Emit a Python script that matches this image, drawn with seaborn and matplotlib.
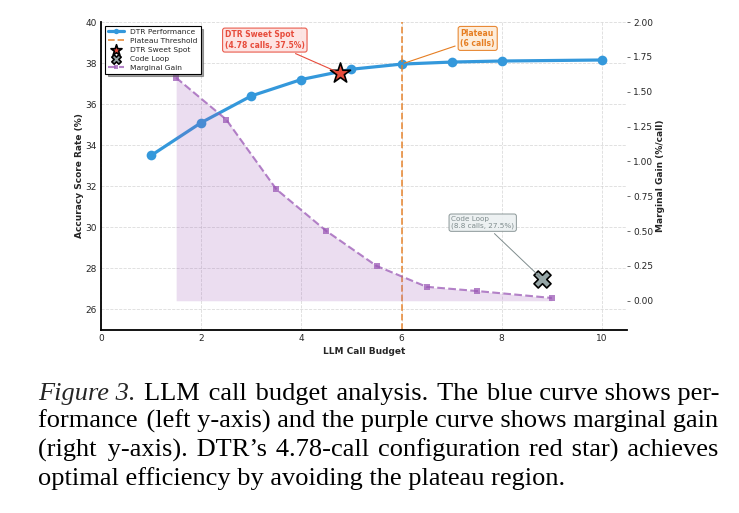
import numpy as np
import pandas as pd
import matplotlib
matplotlib.use("Agg")
import matplotlib.pyplot as plt
import seaborn as sns

#%% data
budget = [1, 2, 3, 4, 5, 6, 7, 8, 10]
accuracy = [33.5, 35.1, 36.4, 37.2, 37.7, 37.95, 38.05, 38.1, 38.15]

gain_x = [1.5, 2.5, 3.5, 4.5, 5.5, 6.5, 7.5, 9.0]
gain = [1.6, 1.3, 0.8, 0.5, 0.25, 0.1, 0.07, 0.02]

sweet_spot = (4.78, 37.5)
code_loop = (8.8, 27.5)
plateau_x = 6

caption_lead = "Figure 3."
caption_lines = [
    "LLM call budget analysis. The blue curve shows per-",
    "formance (left y-axis) and the purple curve shows marginal gain",
    "(right y-axis). DTR\u2019s 4.78-call configuration red star) achieves",
    "optimal efficiency by avoiding the plateau region.",
]

BLUE = "#3498db"
PURPLE = "#9b59b6"
ORANGE = "#e67e22"
RED = "#e74c3c"
GRAY = "#95a5a6"

#%% plot
sns.set_theme(style="whitegrid")
plt.rcParams["font.family"] = ["DejaVu Sans"]

fig = plt.figure(figsize=(7.39, 5.13), dpi=100)
ax1 = fig.add_axes([0.1367, 0.3567, 0.7117, 0.6004])
ax2 = ax1.twinx()

perf = pd.DataFrame({"budget": budget, "accuracy": accuracy})
mg = pd.DataFrame({"x": gain_x, "gain": gain})

sns.lineplot(data=perf, x="budget", y="accuracy", ax=ax1, color=BLUE, lw=2.3,
             marker="o", markersize=7, markeredgewidth=0, label="DTR Performance")
ax1.axvline(plateau_x, color=ORANGE, ls="--", lw=1.3, alpha=0.8, label="Plateau Threshold")
ax1.scatter([sweet_spot[0]], [sweet_spot[1]], marker="*", s=230, color=RED,
            edgecolor="black", linewidth=1.2, zorder=6, label="DTR Sweet Spot")
ax1.scatter([code_loop[0]], [code_loop[1]], marker="X", s=150, color=GRAY,
            edgecolor="black", linewidth=1.2, zorder=6, label="Code Loop")

ax2.fill_between(gain_x, 0, gain, color=PURPLE, alpha=0.2, lw=0)
sns.lineplot(data=mg, x="x", y="gain", ax=ax2, color=PURPLE, lw=1.5, alpha=0.75,
             ls="--", marker="s", markersize=4, markeredgewidth=0, label="Marginal Gain")

ax1.set_xlim(0, 10.5)
ax1.set_ylim(25, 40)
ax2.set_ylim(-0.21, 2.0)
ax1.set_xticks([0, 2, 4, 6, 8, 10])
ax1.set_yticks([26, 28, 30, 32, 34, 36, 38, 40])
gain_ticks = [0, 0.25, 0.5, 0.75, 1.0, 1.25, 1.5, 1.75, 2.0]
ax2.set_yticks(gain_ticks)
ax2.set_yticklabels([f"{v:.2f}" for v in gain_ticks])

ax1.grid(True, ls="--", lw=0.6, color="#cccccc", alpha=0.7)
ax2.grid(False)
ax1.tick_params(axis="both", labelsize=6.5, length=0, pad=3)
ax2.tick_params(axis="y", labelsize=6.5, length=2.5, width=0.6, color="#555555", pad=2, right=True)

for s in ["top", "right"]:
    ax1.spines[s].set_visible(False)
for s in ["top", "right", "left", "bottom"]:
    ax2.spines[s].set_visible(False)
for s in ["left", "bottom"]:
    ax1.spines[s].set_color("black")
    ax1.spines[s].set_linewidth(1.3)

ax1.set_xlabel("LLM Call Budget", fontsize=6.5, fontweight="bold", labelpad=3)
ax1.set_ylabel("Accuracy Score Rate (%)", fontsize=6.5, fontweight="bold", labelpad=1)
ax2.set_ylabel("Marginal Gain (%/call)", fontsize=6.5, fontweight="bold", labelpad=2)

ax1.annotate("DTR Sweet Spot\n(4.78 calls, 37.5%)", xy=sweet_spot, xytext=(3.27, 39.12),
             ha="center", va="center", multialignment="left", fontsize=5.5,
             fontweight="bold", color=RED,
             bbox=dict(boxstyle="round,pad=0.3", fc="#fde2e0", ec=RED, lw=0.8, alpha=0.9),
             arrowprops=dict(arrowstyle="-", color=RED, lw=0.8), zorder=7)
ax1.annotate("Plateau\n(6 calls)", xy=(plateau_x, accuracy[5]), xytext=(7.52, 39.2),
             ha="center", va="center", multialignment="left", fontsize=5.5,
             fontweight="bold", color=ORANGE,
             bbox=dict(boxstyle="round,pad=0.3", fc="#fdebd8", ec=ORANGE, lw=0.8, alpha=0.9),
             arrowprops=dict(arrowstyle="-", color=ORANGE, lw=0.8), zorder=7)
ax1.annotate("Code Loop\n(8.8 calls, 27.5%)", xy=code_loop, xytext=(7.62, 30.24),
             ha="center", va="center", multialignment="left", fontsize=5.2, color="#7f8c8d",
             bbox=dict(boxstyle="round,pad=0.3", fc="#ecf0f1", ec="#7f8c8d", lw=0.7, alpha=0.9),
             arrowprops=dict(arrowstyle="-", color="#7f8c8d", lw=0.7), zorder=7)

# legend
h1, l1 = ax1.get_legend_handles_labels()
h2, l2 = ax2.get_legend_handles_labels()
if ax1.get_legend():
    ax1.get_legend().remove()
if ax2.get_legend():
    ax2.get_legend().remove()
leg = ax2.legend(h1 + h2, l1 + l2, loc="upper left", fontsize=5.4, frameon=True,
                 shadow=True, fancybox=False, borderpad=0.4, labelspacing=0.35,
                 handlelength=2.2, bbox_to_anchor=(0.0, 1.0), framealpha=1,
                 markerscale=0.55)
leg.get_frame().set_edgecolor("black")
leg.get_frame().set_linewidth(0.8)

#%% caption: one text per line, justified by padding gaps with hair spaces
renderer = fig.canvas.get_renderer()
cap_font = ["Liberation Serif", "DejaVu Serif"]
cap_size = 19
left_px, right_px = 38, 719
baselines = [400, 428, 457, 485]
W, H = fig.bbox.width, fig.bbox.height
HAIR = "\u200a"

def text_w(s, style="normal"):
    t = fig.text(0, 0, s, fontsize=cap_size, family=cap_font, style=style)
    w = t.get_window_extent(renderer).width
    t.remove()
    return w

hair_w = text_w("a" + HAIR * 10 + "a") / 10 - text_w("aa") / 10

def justify(line, width):
    words = line.split(" ")
    extra = width - text_w(line)
    n = max(0, int(round(extra / hair_w)))
    gaps = len(words) - 1
    out = words[0]
    for k in range(gaps):
        pad = n // gaps + (1 if k < n % gaps else 0)
        out += " " + HAIR * pad + words[k + 1]
    return out

lead_w = text_w(caption_lead + " ", style="italic")
fig.text(left_px / W, (H - baselines[0]) / H, caption_lead, fontsize=cap_size,
         family=cap_font, style="italic", va="baseline", ha="left")

for i, line in enumerate(caption_lines):
    x0 = left_px + (round(lead_w) + 2 if i == 0 else 0)
    s = line if i == len(caption_lines) - 1 else justify(line, right_px - x0)
    fig.text(x0 / W, (H - baselines[i]) / H, s, fontsize=cap_size,
             family=cap_font, va="baseline", ha="left", color="black")

fig.savefig("out.png", dpi=100)
